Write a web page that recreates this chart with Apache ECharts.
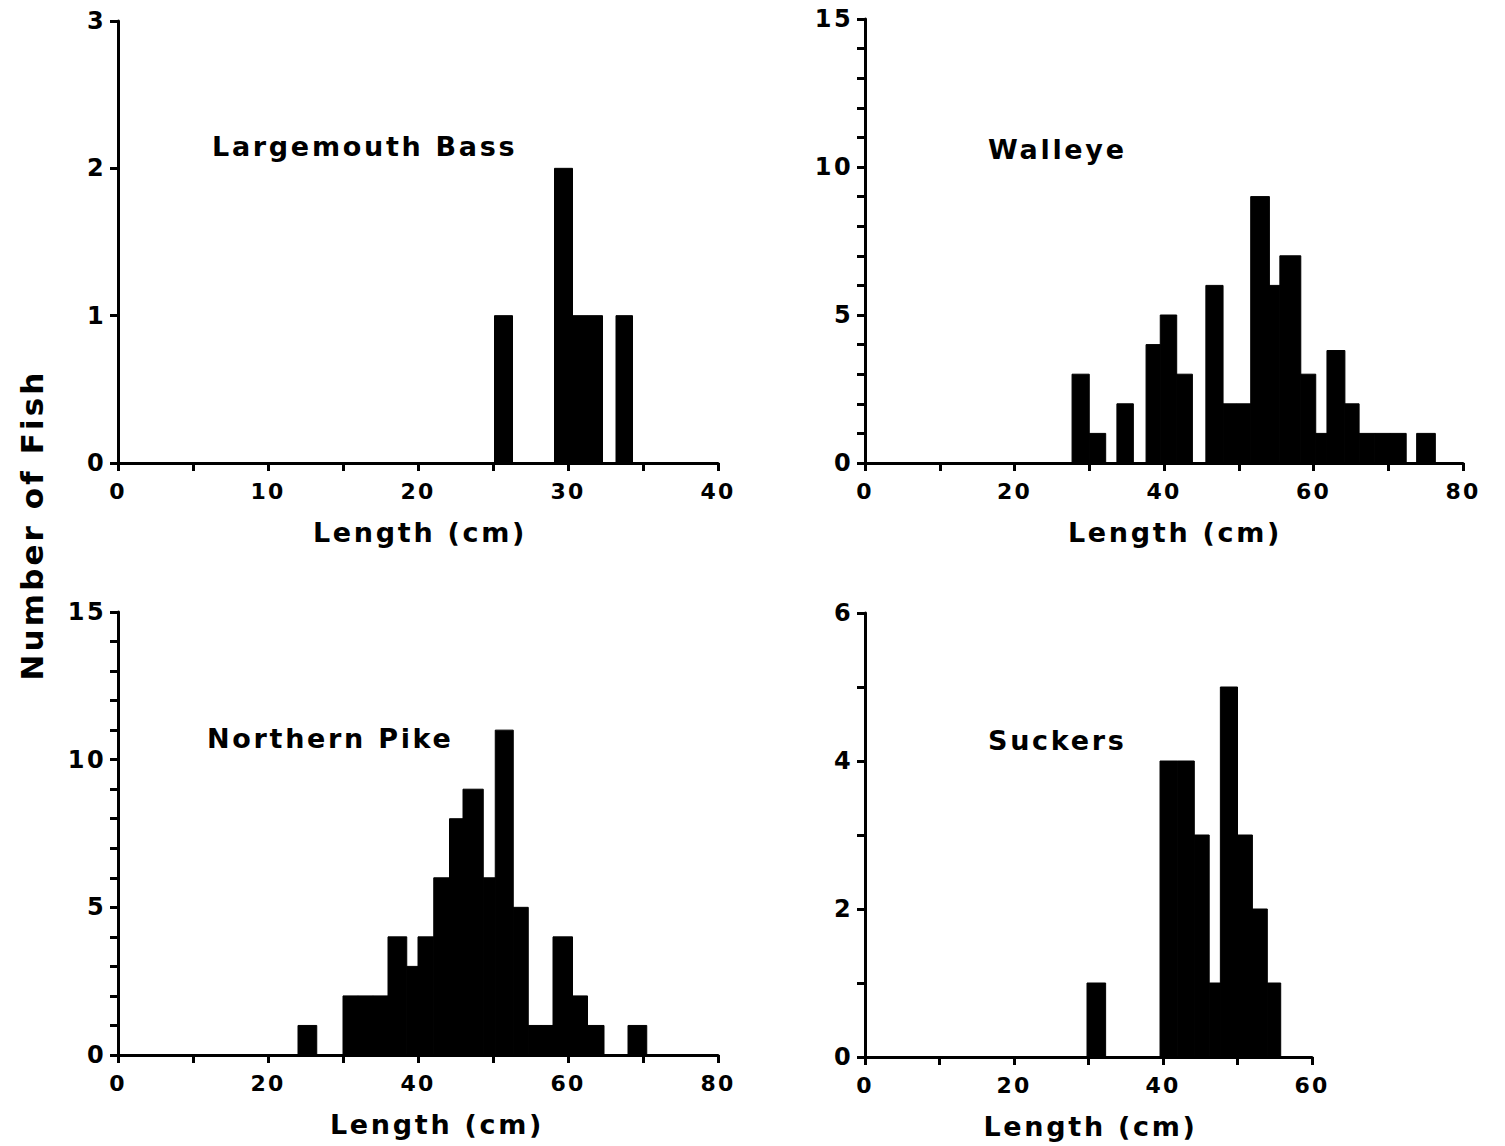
<!DOCTYPE html>
<html>
<head>
<meta charset="UTF-8">
<title>Number of Fish by Length</title>
<style>
    html, body { margin: 0; padding: 0; background: #fff; }
    #main { width: 1505px; height: 1146px; }
    #main text { letter-spacing: 0.1em; }
</style>
<script src="https://cdn.jsdelivr.net/npm/echarts@6/dist/echarts.min.js"></script>
</head>
<body>
<div id="main"></div>
<script>
// bins: lower edge (cm), upper edge (cm), number of fish
var bassLo = [25.1, 29.1, 30.3, 31.3, 33.2];
var bassHi = [26.3, 30.3, 31.3, 32.3, 34.3];
var bassN  = [1, 2, 1, 1, 1];

var walleyeLo = [27.7, 30.0, 33.7, 37.6, 39.5, 41.7, 45.6, 47.9, 49.7, 51.6, 54.1, 55.5, 58.3, 60.3, 61.8, 64.2, 66.1, 68.2, 70.3, 73.8];
var walleyeHi = [30.0, 32.2, 35.9, 39.5, 41.7, 43.8, 47.9, 49.7, 51.6, 54.1, 55.5, 58.3, 60.3, 61.8, 64.2, 66.1, 68.2, 70.3, 72.4, 76.3];
var walleyeN  = [3, 1, 2, 4, 5, 3, 6, 2, 2, 9, 6, 7, 3, 1, 3.8, 2, 1, 1, 1, 1];

var pikeLo = [24.0, 30.0, 32.0, 34.0, 36.0, 38.5, 40.0, 42.1, 44.2, 46.0, 48.7, 50.3, 52.7, 54.7, 56.4, 58.0, 60.6, 62.6, 68.0];
var pikeHi = [26.5, 32.0, 34.0, 36.0, 38.5, 40.0, 42.1, 44.2, 46.0, 48.7, 50.3, 52.7, 54.7, 56.4, 58.0, 60.6, 62.6, 64.8, 70.5];
var pikeN  = [1, 2, 2, 2, 4, 3, 4, 6, 8, 9, 6, 11, 5, 1, 1, 4, 2, 1, 1];

var suckersLo = [29.8, 39.6, 41.9, 44.2, 46.2, 47.7, 50.0, 52.0, 54.0];
var suckersHi = [32.3, 41.9, 44.2, 46.2, 47.7, 50.0, 52.0, 54.0, 55.8];
var suckersN  = [1, 4, 4, 3, 1, 5, 3, 2, 1];

var titles = ['Largemouth Bass', 'Walleye', 'Northern Pike', 'Suckers'];
var xMax = [40, 80, 80, 60];
var xStep = [10, 20, 20, 20];
var yMax = [3, 15, 15, 6];
var yStep = [1, 5, 5, 2];
var yMinor = [1, 5, 5, 2];

var FONT = '"DejaVu Sans", sans-serif';

function bins(lo, hi, n) {
    return lo.map(function (v, i) { return [v, hi[i], n[i]]; });
}

var chart = echarts.init(document.getElementById('main'), null, {renderer: 'svg'});

var grids = [
    {left: 118, top: 21, width: 600, height: 442},
    {left: 865, top: 19, width: 598, height: 444},
    {left: 118, top: 612, width: 600, height: 443},
    {left: 865, top: 613, width: 447, height: 444}
];
grids.forEach(function (g) { g.containLabel = false; g.outerBoundsMode = 'none'; });

// horizontal offset of each "Length (cm)" from its axis centre
var nameShift = [2, 11, 19, 2];

var line = {color: '#000', width: 3};
var xAxes = [], yAxes = [];
for (var i = 0; i < 4; i++) {
    xAxes.push({
        type: 'value', gridIndex: i, min: 0, max: xMax[i], interval: xStep[i],
        axisLine: {onZero: false, lineStyle: line},
        axisTick: {show: true, length: 8, lineStyle: line},
        minorTick: {show: true, splitNumber: 2, length: 8, lineStyle: line},
        splitLine: {show: false},
        axisLabel: {margin: 17, color: '#000', fontFamily: FONT, fontWeight: 'bold', fontSize: 22},
        name: 'Length (cm)', nameLocation: 'middle', nameGap: 56,
        nameTextStyle: {color: '#000', fontFamily: FONT, fontWeight: 'bold', fontSize: 27,
            padding: [0, 0, 0, nameShift[i] * 2]}
    });
    yAxes.push({
        type: 'value', gridIndex: i, min: 0, max: yMax[i], interval: yStep[i],
        axisLine: {show: true, onZero: false, lineStyle: line},
        axisTick: {show: true, length: 8, lineStyle: line},
        minorTick: {show: yMinor[i] > 1, splitNumber: yMinor[i], length: 8, lineStyle: line},
        splitLine: {show: false},
        axisLabel: {margin: 12, color: '#000', fontFamily: FONT, fontWeight: 'bold', fontSize: 24}
    });
}

function renderBar(params, api) {
    var p0 = api.coord([api.value(0), 0]);
    var p1 = api.coord([api.value(1), api.value(2)]);
    return {
        type: 'rect',
        shape: {x: p0[0], y: p1[1], width: p1[0] - p0[0], height: p0[1] - p1[1]},
        style: {fill: '#000', stroke: '#000', lineWidth: 1}
    };
}

var allData = [
    bins(bassLo, bassHi, bassN),
    bins(walleyeLo, walleyeHi, walleyeN),
    bins(pikeLo, pikeHi, pikeN),
    bins(suckersLo, suckersHi, suckersN)
];
var series = allData.map(function (d, i) {
    return {
        type: 'custom', name: titles[i], xAxisIndex: i, yAxisIndex: i,
        renderItem: renderBar, encode: {x: [0, 1], y: 2}, data: d
    };
});

var titlePos = [[212, 146], [988, 149], [207, 738], [988, 740]];
var graphics = titles.map(function (t, i) {
    return {
        type: 'text', x: titlePos[i][0], y: titlePos[i][1],
        style: {text: t, fill: '#000', font: 'bold 27px ' + FONT, align: 'left', verticalAlign: 'middle'}
    };
});
graphics.push({
    type: 'text', x: 32, y: 525, rotation: Math.PI / 2,
    style: {text: 'Number of Fish', fill: '#000', font: 'bold 31px ' + FONT, align: 'center', verticalAlign: 'middle'}
});

chart.setOption({
    animation: false,
    backgroundColor: '#fff',
    grid: grids,
    xAxis: xAxes,
    yAxis: yAxes,
    series: series,
    graphic: graphics
});
</script>
</body>
</html>
